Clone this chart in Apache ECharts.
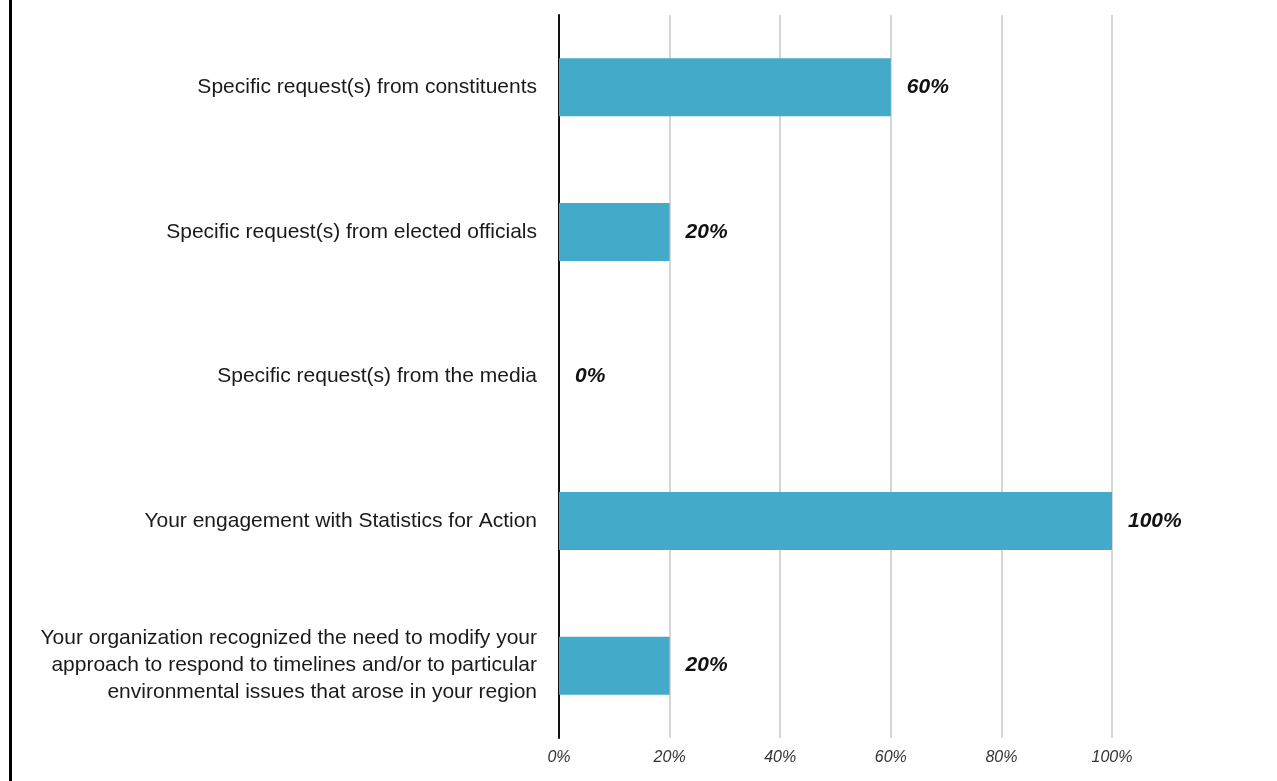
<!DOCTYPE html>
<html>
<head>
<meta charset="utf-8">
<script src="https://cdn.jsdelivr.net/npm/echarts@6/dist/echarts.min.js"></script>
<style>
  html, body { margin: 0; padding: 0; background: #fff; }
  #chart { width: 1277px; height: 781px; }
</style>
</head>
<body>
<div id="chart"></div>
<script>
// Survey answers: what prompted changes to the approach
const categories = [
  'Specific request(s) from constituents',
  'Specific request(s) from elected officials',
  'Specific request(s) from the media',
  'Your engagement with Statistics for Action',
  'Your organization recognized the need to modify your\napproach to respond to timelines and/or to particular\nenvironmental issues that arose in your region'
];
const shares = [60, 20, 0, 100, 20];
const xTicks = [0, 20, 40, 60, 80, 100];

const FONT = '"Liberation Sans", Arial, sans-serif';

const chart = echarts.init(document.getElementById('chart'), null, { renderer: 'canvas' });
chart.setOption({
  animation: false,
  backgroundColor: '#ffffff',
  grid: { left: 559, right: 165, top: 15, bottom: 43, containLabel: false },
  graphic: [{
    type: 'rect',
    shape: { x: 9, y: 0, width: 3, height: 781 },
    style: { fill: '#000000' },
    silent: true
  }],
  xAxis: {
    type: 'value',
    min: xTicks[0],
    max: xTicks[xTicks.length - 1],
    interval: xTicks[1] - xTicks[0],
    axisLine: { show: false },
    axisTick: { show: false },
    splitLine: { show: true, lineStyle: { color: '#c9c9c9', width: 1.5 } },
    axisLabel: {
      margin: 12,
      color: '#333333',
      fontFamily: FONT,
      fontSize: 16,
      fontStyle: 'italic',
      formatter: v => v + '%'
    }
  },
  yAxis: {
    type: 'category',
    data: categories,
    inverse: true,
    axisLine: { show: true, lineStyle: { color: '#111111', width: 2 } },
    axisTick: { show: false },
    splitLine: { show: false },
    axisLabel: {
      margin: 22,
      color: '#1a1a1a',
      fontFamily: FONT,
      fontSize: 21,
      lineHeight: 27,
      align: 'right',
      padding: [3, 0, 0, 0]
    }
  },
  series: [{
    type: 'bar',
    data: shares,
    barWidth: 58,
    itemStyle: { color: '#43abc9' },
    label: {
      show: true,
      position: 'right',
      distance: 16,
      color: '#111111',
      fontFamily: FONT,
      fontSize: 21,
      fontWeight: 'bold',
      fontStyle: 'italic',
      padding: [3, 0, 0, 0],
      formatter: p => p.value + '%'
    }
  }]
});
</script>
</body>
</html>
